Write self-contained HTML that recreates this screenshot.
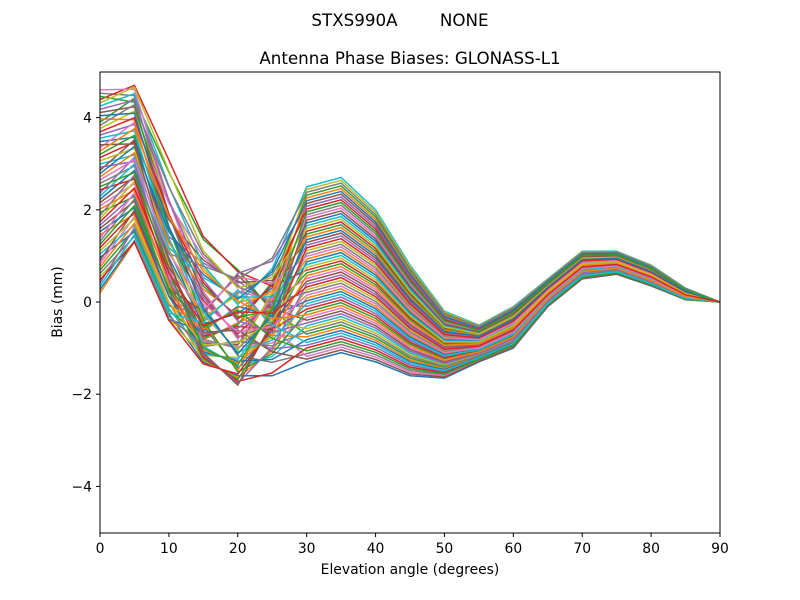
<!DOCTYPE html>
<html><head><meta charset="utf-8"><style>
html,body{margin:0;padding:0;background:#fff}
svg{display:block;font-family:"DejaVu Sans","Liberation Sans",sans-serif}
</style></head><body>
<svg id="s" width="800" height="600" viewBox="0 0 800 600" xmlns="http://www.w3.org/2000/svg">
<rect width="800" height="600" fill="#fff"/>
<text x="400" y="26" font-size="16.7" text-anchor="middle" xml:space="preserve">STXS990A        NONE</text>
<text x="410" y="64" font-size="16.7" text-anchor="middle">Antenna Phase Biases: GLONASS-L1</text>
<defs><clipPath id="c"><rect x="100" y="72" width="620" height="461"/></clipPath></defs>
<g id="lines" clip-path="url(#c)"></g>
<rect x="100" y="72" width="620" height="461" fill="none" stroke="#000" stroke-width="1"/>
<g id="ticks" font-size="13.9"></g>
<text x="410" y="574" font-size="13.9" text-anchor="middle">Elevation angle (degrees)</text>
<text transform="translate(62,302) rotate(-90)" font-size="13.9" text-anchor="middle">Bias (mm)</text>
</svg>
<script>
var NS="http://www.w3.org/2000/svg";
function X(d){return 100+d*620/90}
function Y(v){return 302-v*46.1}
var t=document.getElementById('ticks');
function el(n,a,txt){var e=document.createElementNS(NS,n);for(var k in a)e.setAttribute(k,a[k]);if(txt!=null)e.textContent=txt;t.appendChild(e);}
for(var d=0;d<=90;d+=10){el('line',{x1:X(d),x2:X(d),y1:533,y2:537,stroke:'#000'});el('text',{x:X(d),y:553,'text-anchor':'middle'},d);}
[-4,-2,0,2,4].forEach(function(v){el('line',{x1:96,x2:100,y1:Y(v),y2:Y(v),stroke:'#000'});el('text',{x:92,y:Y(v)+5,'text-anchor':'end'},v<0?'\u2212'+(-v):v);});
var A=[4.5,4.7,3.1,1.5,0.7,1.5,2.5,2.7,2.0,0.8,-0.2,-0.5,-0.1,0.5,1.1,1.1,0.8,0.3,0];
var B=[0.2,1.3,-0.4,-1.5,-1.8,-1.6,-1.3,-1.1,-1.3,-1.6,-1.65,-1.3,-1.0,-0.1,0.5,0.6,0.35,0.05,0];
var cols=['#1f77b4','#ff7f0e','#2ca02c','#d62728','#9467bd','#8c564b','#e377c2','#7f7f7f','#bcbd22','#17becf'];
var g=document.getElementById('lines');
var N=64;
for(var i=0;i<N;i++){
 var tt=((i*37)%N)/(N-1);
 var u=((i*53+11)%N)/(N-1);
 var w=((i*29+5)%N)/(N-1);
 var v0=0.2+u*4.4;
 var v5=Math.max(1.3,Math.min(4.7,v0*0.8+1.0+(w-0.5)*0.6));
 var v10=-0.4+(v5-1.3)/3.4*3.5*(0.6+0.4*w);
 var v15=-1.5+(0.3*u+0.7*w)*3.0*(v10>1?1:0.6);
 var v20=-1.8+w*2.5;
 var vals=[v0,v5,v10,v15,v20];
 var p='';
 for(var j=0;j<19;j++){
  var late=B[j]+tt*(A[j]-B[j]);
  var v=j<=4?vals[j]:late;
  if(j==5) v=0.5*late+0.5*v20;
  p+=(j?'L':'M')+X(j*5).toFixed(1)+','+Y(v).toFixed(1);
 }
 var e=document.createElementNS(NS,'path');
 e.setAttribute('d',p);e.setAttribute('fill','none');e.setAttribute('stroke',cols[i%10]);e.setAttribute('stroke-width','1.5');
 g.appendChild(e);
}
</script>
</body></html>
